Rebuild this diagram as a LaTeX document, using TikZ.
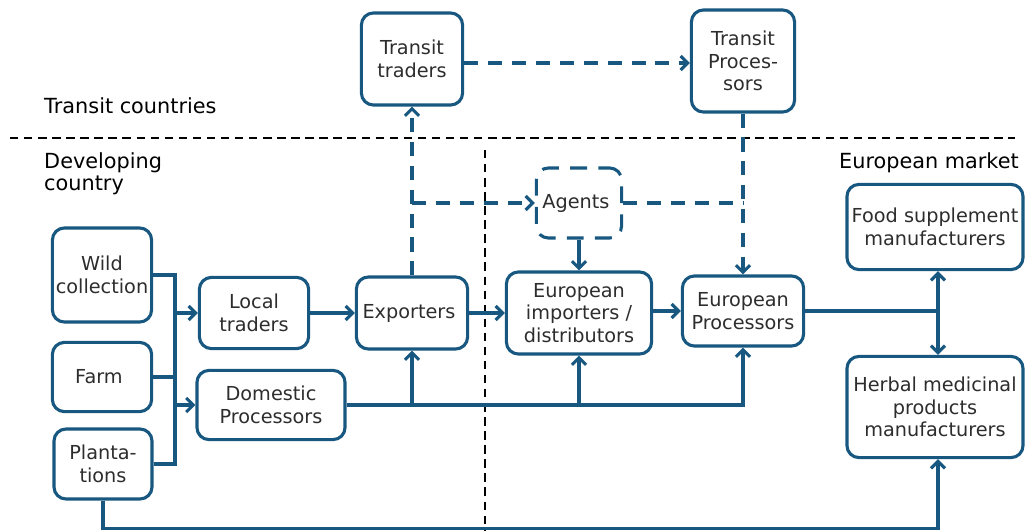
\documentclass[tikz,border=0pt]{standalone}
\usepackage{fontspec}
\setmainfont{DejaVu Sans}
\usetikzlibrary{arrows.meta}
\definecolor{flowblue}{RGB}{24,88,128}
\definecolor{textgray}{RGB}{45,45,45}
\begin{document}
\begin{tikzpicture}[
   x=0.025cm,
   y=-0.025cm,
   font=\fontsize{13.7}{16}\selectfont,
   line width=2.2pt,
   box/.style={
      draw=flowblue,
      rounded corners=0.3cm,
      align=center,
      inner sep=1pt,
      text=textgray,
      fill=white
   },
   agentbox/.style={
      box,
      dash pattern=on 12pt off 8pt,
      dash phase=4pt
   },
   line/.style={draw=flowblue},
   arr/.style={draw=flowblue, -{Straight Barb[length=5pt,width=10pt]}},
   dline/.style={draw=flowblue, dash pattern=on 10pt off 7pt},
   darr/.style={dline, -{Straight Barb[length=5pt,width=10pt]}},
   divider/.style={draw=black, line width=1.3pt, dash pattern=on 6pt off 4pt},
   region/.style={text=black, align=left, font=\fontsize{14.8}{17}\selectfont}
]

   \useasboundingbox (0,0) rectangle (1026,531);

   % Region dividers
   \draw[divider] (10,138) -- (1015,138);
   \draw[divider] (485,150) -- (485,531);

   % Region labels
   \node[region, anchor=west] (lbltransit) at (38,106) {Transit countries};
   \node[region, anchor=west] (lbldev) at (38,174) {Developing\\[-1pt]country};
   \node[region, anchor=east] (lbleu) at (1025,163) {European market};

   % Transit countries
   \node[box, minimum width=2.53cm, minimum height=2.3cm] (ttrad) at (412,59)
   {
      Transit\\traders
   };

   \node[box, minimum width=2.58cm, minimum height=2.55cm] (tproc) at (743,61)
   {
      Transit\\Proces-\\sors
   };

   % Sources
   \node[box, minimum width=2.48cm, minimum height=2.35cm] (wild) at (102,275)
   {
      Wild\\collection
   };

   \node[box, minimum width=2.48cm, minimum height=1.73cm] (farm) at (102,377)
   {
      Farm
   };

   \node[box, minimum width=2.45cm, minimum height=1.75cm] (plant) at (103,464)
   {
      Planta-\\tions
   };

   % Developing country chain
   \node[box, minimum width=2.73cm, minimum height=1.78cm] (local) at (254,313)
   {
      Local\\traders
   };

   \node[box, minimum width=3.7cm, minimum height=1.73cm] (dom) at (271,405)
   {
      Domestic\\Processors
   };

   \node[box, minimum width=2.78cm, minimum height=1.8cm] (exp) at (412,313)
   {
      Exporters
   };

   % European market
   \node[agentbox, minimum width=2.13cm, minimum height=1.75cm] (agents) at (579,203)
   {
      Agents
   };

   \node[box, minimum width=3.63cm, minimum height=2.05cm] (imp) at (579,313)
   {
      European\\importers /\\distributors
   };

   \node[box, minimum width=3.03cm, minimum height=1.75cm] (eproc) at (743,311)
   {
      European\\Processors
   };

   \node[box, minimum width=4.4cm, minimum height=2.13cm] (food) at (935,227)
   {
      Food supplement\\manufacturers
   };

   \node[box, minimum width=4.4cm, minimum height=2.53cm] (herb) at (935,407)
   {
      Herbal medicinal\\products\\manufacturers
   };

   % Sources collector
   \coordinate (bus) at (175,0);
   \draw[line] (wild.east) -| (bus |- plant.east) -- (plant.east);
   \draw[line] (farm.east) -- (bus |- farm.east);
   \draw[arr] (bus |- local.west) -- (local.west);
   \draw[arr] (bus |- dom.west) -- (dom.west);

   % Main chain
   \draw[arr] (local.east) -- (exp.west);
   \draw[arr] (exp.east) -- (imp.west);
   \draw[arr] (imp.east |- eproc.west) -- (eproc.west);

   % Domestic processors feed
   \draw[arr] (dom.east) -| (eproc.south);
   \draw[arr] (dom.east -| exp.south) -- (exp.south);
   \draw[arr] (dom.east -| imp.south) -- (imp.south);

   % To manufacturers
   \coordinate (mbus) at (938,0);
   \draw[line] (eproc.east) -- (mbus |- eproc.east);
   \draw[arr] (mbus |- eproc.east) -- (mbus |- food.south);
   \draw[arr] (mbus |- eproc.east) -- (mbus |- herb.north);
   \draw[arr] (plant.south) -- ++(0,28) -| (mbus |- herb.south);

   % Transit and agent routes
   \coordinate (split) at (exp.north |- agents.west);
   \draw[darr] (exp.north) -- (ttrad.south);
   \draw[darr] (split) -- (agents.west);
   \draw[darr] (ttrad.east |- 0,63) -- (tproc.west |- 0,63);
   \draw[darr] (tproc.south) -- (eproc.north);
   \draw[dline] (agents.east) -- (agents.east -| tproc.south);
   \draw[arr] (agents.south) -- (imp.north);

\end{tikzpicture}
\end{document}
